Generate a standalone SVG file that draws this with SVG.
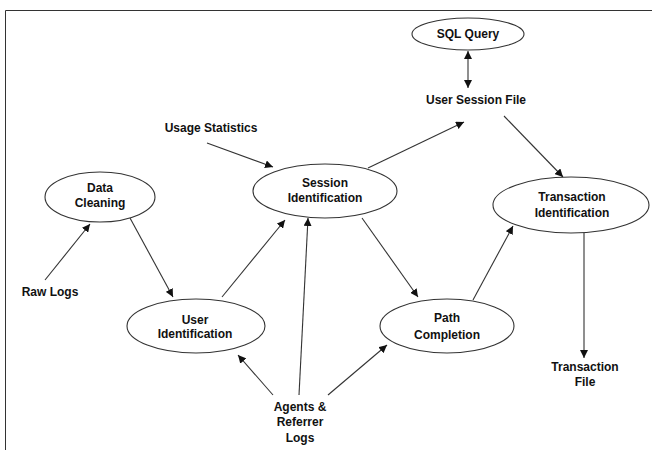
<svg xmlns="http://www.w3.org/2000/svg" width="652" height="450" viewBox="0 0 652 450">
<style>
.node ellipse{fill:#fff;stroke:#333;stroke-width:1.1}
text{font-family:"Liberation Sans",Arial,sans-serif;font-size:12px;font-weight:bold;fill:#111;text-anchor:middle}
.edges line{stroke:#333;stroke-width:1.1;marker-end:url(#ah)}
</style>
<defs>
<marker id="ah" viewBox="0 0 10 10" refX="10" refY="5" markerWidth="8" markerHeight="8" markerUnits="userSpaceOnUse" orient="auto-start-reverse">
<path d="M0,0 L10,5 L0,10 z" fill="#111"/>
</marker>
</defs>
<rect width="652" height="450" fill="#fff"/>
<path d="M5.5,450 V10.5 H652" fill="none" stroke="#333" stroke-width="1"/>
<g class="edges">
<line x1="468" y1="51" x2="468" y2="88" marker-start="url(#ah)"/>
<line x1="207" y1="143" x2="273" y2="167"/>
<line x1="368" y1="168" x2="464" y2="122"/>
<line x1="504" y1="116" x2="563" y2="177"/>
<line x1="45" y1="280" x2="90" y2="224"/>
<line x1="130" y1="218" x2="173" y2="297"/>
<line x1="222" y1="297" x2="285" y2="220"/>
<line x1="299" y1="395" x2="308" y2="218"/>
<line x1="273" y1="395" x2="238" y2="355"/>
<line x1="328" y1="395" x2="387" y2="345"/>
<line x1="362" y1="218" x2="418" y2="297"/>
<line x1="473" y1="300" x2="513" y2="226"/>
<line x1="584" y1="233" x2="584" y2="358"/>
</g>
<g id="sql" class="node"><ellipse cx="468" cy="34" rx="56" ry="16"/><text x="468" y="38">SQL Query</text></g>
<g id="usf"><text x="476" y="104">User Session File</text></g>
<g id="usage"><text x="211" y="132">Usage Statistics</text></g>
<g id="session" class="node"><ellipse cx="325" cy="191" rx="72" ry="27"/><text x="325" y="187">Session</text><text x="325" y="202">Identification</text></g>
<g id="transaction" class="node"><ellipse cx="571" cy="205" rx="78" ry="28"/><text x="572" y="201">Transaction</text><text x="572" y="217">Identification</text></g>
<g id="datacleaning" class="node"><ellipse cx="100" cy="197" rx="55" ry="25"/><text x="100" y="192">Data</text><text x="100" y="207">Cleaning</text></g>
<g id="rawlogs"><text x="50" y="296">Raw Logs</text></g>
<g id="useridentification" class="node"><ellipse cx="196" cy="326" rx="69" ry="27"/><text x="195" y="324">User</text><text x="195" y="338">Identification</text></g>
<g id="pathcompletion" class="node"><ellipse cx="447" cy="326" rx="67" ry="27"/><text x="447" y="322">Path</text><text x="447" y="339">Completion</text></g>
<g id="agents"><text x="300" y="411">Agents &amp;</text><text x="300" y="426">Referrer</text><text x="300" y="442">Logs</text></g>
<g id="transactionfile"><text x="585" y="371">Transaction</text><text x="585" y="386">File</text></g>
</svg>
